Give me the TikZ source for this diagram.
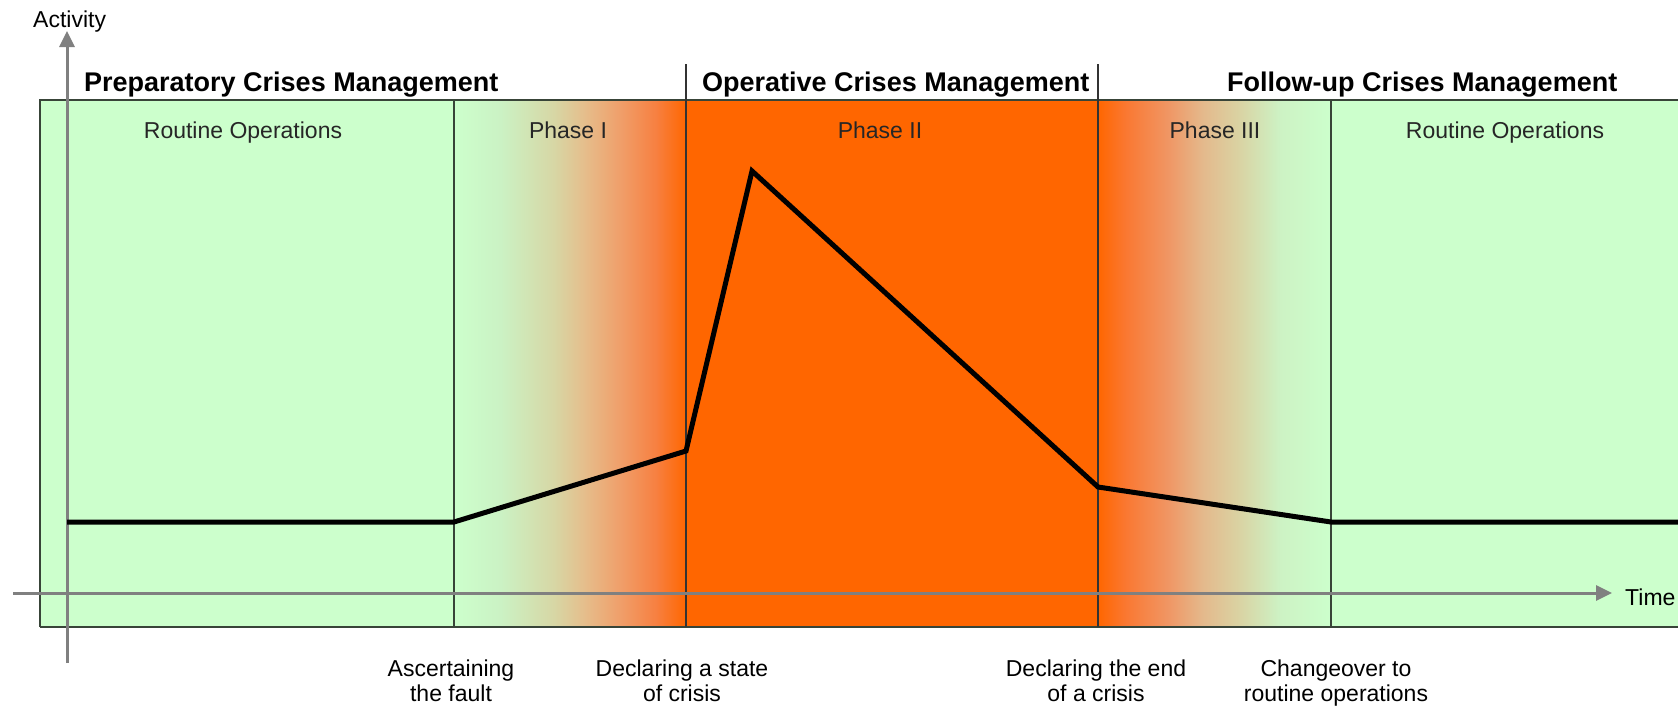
\documentclass[tikz,border=0pt]{standalone}
\usepackage{fontspec}
\setmainfont{Liberation Sans}
\usetikzlibrary{arrows.meta}
\definecolor{routinegreen}{RGB}{204,255,204}
\definecolor{crisisorange}{RGB}{255,102,0}
\definecolor{framegray}{RGB}{70,85,70}
\definecolor{axisgray}{RGB}{128,128,128}
% Phase I stops
\definecolor{pa}{RGB}{203,242,196}
\definecolor{pb}{RGB}{215,215,165}
\definecolor{pc}{RGB}{230,188,138}
\definecolor{pd}{RGB}{240,158,105}
\definecolor{pe}{RGB}{247,128,65}
% Phase III stops
\definecolor{qa}{RGB}{250,120,50}
\definecolor{qb}{RGB}{240,150,100}
\definecolor{qc}{RGB}{228,185,140}
\definecolor{qd}{RGB}{218,210,162}
\definecolor{qe}{RGB}{205,242,196}
\pgfdeclarehorizontalshading{phaseoneshade}{100bp}{color(0bp)=(routinegreen); color(25bp)=(routinegreen); color(35bp)=(pa); color(46.5bp)=(pb); color(53.5bp)=(pc); color(61bp)=(pd); color(68.5bp)=(pe); color(75bp)=(crisisorange); color(100bp)=(crisisorange)}
\pgfdeclarehorizontalshading{phasethreeshade}{100bp}{color(0bp)=(crisisorange); color(25bp)=(crisisorange); color(31bp)=(qa); color(40bp)=(qb); color(47.5bp)=(qc); color(55bp)=(qd); color(64bp)=(qe); color(75bp)=(routinegreen); color(100bp)=(routinegreen)}
\tikzset{
  header/.style={font=\fontsize{27}{30}\selectfont\bfseries, anchor=base west, inner sep=0pt},
  plainlabel/.style={font=\fontsize{23}{25}\selectfont, inner sep=0pt},
  phaselabel/.style={plainlabel, text=black!85, anchor=base},
  eventlabel/.style={plainlabel, align=center, anchor=north},
  divider/.style={draw=framegray!80!black, line width=2pt},
  axisline/.style={draw=axisgray, line width=3pt, -{Triangle[length=16pt,width=15pt]}},
  activityline/.style={draw=black, line width=5pt, line join=miter},
}
\begin{document}
\begin{tikzpicture}[x=1pt,y=-1pt]
\useasboundingbox (0,0) rectangle (1678,707);
% fills
\fill[routinegreen] (40,100) rectangle (1700,627);
\shade[shading=phaseoneshade] (454,100) rectangle (686,627);
\fill[crisisorange] (686,100) rectangle (1098,627);
\shade[shading=phasethreeshade] (1098,100) rectangle (1331,627);
% frame and dividers
\draw[divider] (40,627) -- (40,100) -- (1700,100);
\draw[divider] (40,627) -- (1700,627);
\coordinate (d1t) at (454,100); \coordinate (d1b) at (454,627);
\coordinate (d2t) at (686,64);  \coordinate (d2b) at (686,627);
\coordinate (d3t) at (1098,64); \coordinate (d3b) at (1098,627);
\coordinate (d4t) at (1331,100); \coordinate (d4b) at (1331,627);
\draw[divider] (d1t) -- (d1b);
\draw[divider, draw=black!80] (d2t) -- (d2b);
\draw[divider, draw=black!80] (d3t) -- (d3b);
\draw[divider] (d4t) -- (d4b);
% headers
\node[header] (h1) at (84,91) {Preparatory Crises Management};
\node[header] (h2) at (702,91) {Operative Crises Management};
\node[header] (h3) at (1227,91) {Follow-up Crises Management};
% phase labels
\node[phaselabel] (p0) at (243,138) {Routine Operations};
\node[phaselabel] (p1) at (568,138) {Phase I};
\node[phaselabel] (p2) at (880,138) {Phase II};
\node[phaselabel] (p3) at (1215,138) {Phase III};
\node[phaselabel] (p4) at (1505,138) {Routine Operations};
% axes
\coordinate (yb) at (67,663); \coordinate (yt) at (67,31);
\coordinate (xl) at (13,593); \coordinate (xr) at (1612,593);
\draw[axisline] (yb) -- (yt);
\draw[axisline] (xl) -- (xr);
\node[plainlabel, anchor=base west] (act) at (33,27) {Activity};
\node[plainlabel, anchor=base west] (time) at (1625,605) {Time};
% activity curve
\coordinate (a0) at (67,522);
\coordinate (a1) at (454,522);
\coordinate (a2) at (686,451);
\coordinate (a3) at (752,171);
\coordinate (a4) at (1098,487);
\coordinate (a5) at (1331,522);
\coordinate (a6) at (1700,522);
\draw[activityline] (a0) -- (a1) -- (a2) -- (a3) -- (a4) -- (a5) -- (a6);
% event labels
\node[eventlabel] (e1) at (451,660) {Ascertaining\\the fault};
\node[eventlabel] (e2) at (682,660) {Declaring a state\\of crisis};
\node[eventlabel] (e3) at (1096,660) {Declaring the end\\of a crisis};
\node[eventlabel] (e4) at (1336,660) {Changeover to\\routine operations};
\end{tikzpicture}
\end{document}
